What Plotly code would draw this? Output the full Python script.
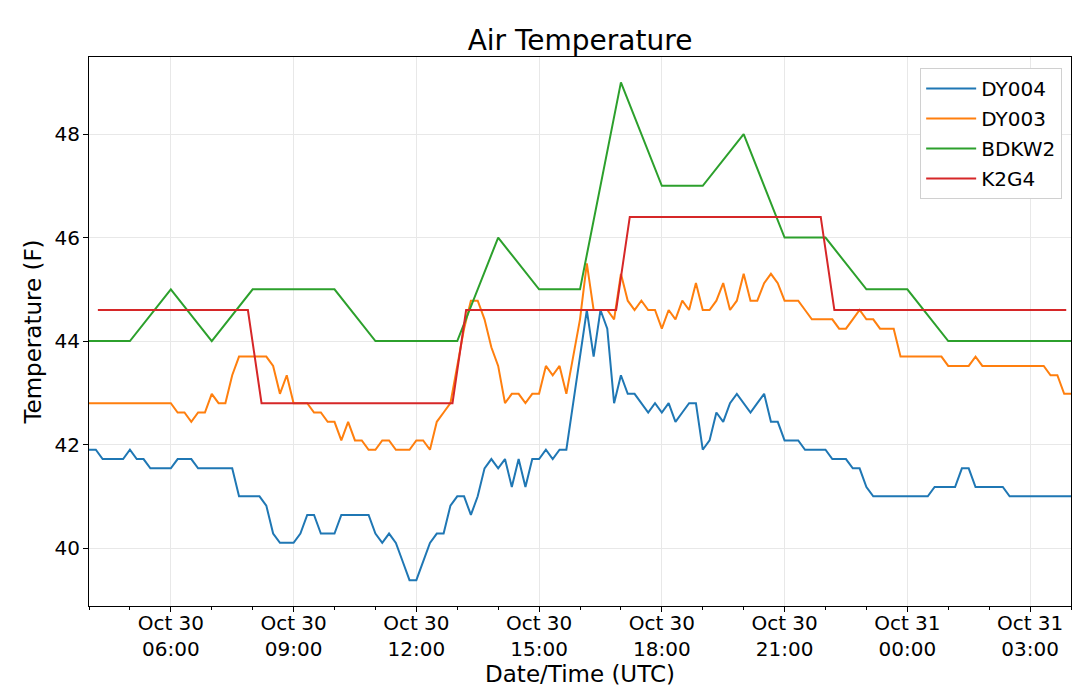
import pandas as pd
import plotly.graph_objects as go

# 10 minute obs, 04:00 Oct 30 -> 04:00 Oct 31
dy004_temp = [
    41.9, 41.9, 41.72, 41.72, 41.72, 41.72, 41.9, 41.72, 41.72, 41.54,
    41.54, 41.54, 41.54, 41.72, 41.72, 41.72, 41.54, 41.54, 41.54, 41.54,
    41.54, 41.54, 41.0, 41.0, 41.0, 41.0, 40.82, 40.28, 40.1, 40.1,
    40.1, 40.28, 40.64, 40.64, 40.28, 40.28, 40.28, 40.64, 40.64, 40.64,
    40.64, 40.64, 40.28, 40.1, 40.28, 40.1, 39.74, 39.38, 39.38, 39.74,
    40.1, 40.28, 40.28, 40.82, 41.0, 41.0, 40.64, 41.0, 41.54, 41.72,
    41.54, 41.72, 41.18, 41.72, 41.18, 41.72, 41.72, 41.9, 41.72, 41.9,
    41.9, 42.8, 43.7, 44.6, 43.7, 44.6, 44.24, 42.8, 43.34, 42.98,
    42.98, 42.8, 42.62, 42.8, 42.62, 42.8, 42.44, 42.62, 42.8, 42.8,
    41.9, 42.08, 42.62, 42.44, 42.8, 42.98, 42.8, 42.62, 42.8, 42.98,
    42.44, 42.44, 42.08, 42.08, 42.08, 41.9, 41.9, 41.9, 41.9, 41.72,
    41.72, 41.72, 41.54, 41.54, 41.18, 41.0, 41.0, 41.0, 41.0, 41.0,
    41.0, 41.0, 41.0, 41.0, 41.18, 41.18, 41.18, 41.18, 41.54, 41.54,
    41.18, 41.18, 41.18, 41.18, 41.18, 41.0, 41.0, 41.0, 41.0, 41.0,
    41.0, 41.0, 41.0, 41.0, 41.0,
]
dy003_temp = [
    42.8, 42.8, 42.8, 42.8, 42.8, 42.8, 42.8, 42.8, 42.8, 42.8,
    42.8, 42.8, 42.8, 42.62, 42.62, 42.44, 42.62, 42.62, 42.98, 42.8,
    42.8, 43.34, 43.7, 43.7, 43.7, 43.7, 43.7, 43.52, 42.98, 43.34,
    42.8, 42.8, 42.8, 42.62, 42.62, 42.44, 42.44, 42.08, 42.44, 42.08,
    42.08, 41.9, 41.9, 42.08, 42.08, 41.9, 41.9, 41.9, 42.08, 42.08,
    41.9, 42.44, 42.62, 42.8, 43.52, 44.24, 44.78, 44.78, 44.42, 43.88,
    43.52, 42.8, 42.98, 42.98, 42.8, 42.98, 42.98, 43.52, 43.34, 43.52,
    42.98, 43.7, 44.42, 45.5, 44.6, 44.6, 44.6, 44.42, 45.3, 44.78,
    44.6, 44.78, 44.6, 44.6, 44.24, 44.6, 44.42, 44.78, 44.6, 45.12,
    44.6, 44.6, 44.78, 45.12, 44.6, 44.78, 45.3, 44.78, 44.78, 45.12,
    45.3, 45.12, 44.78, 44.78, 44.78, 44.6, 44.42, 44.42, 44.42, 44.42,
    44.24, 44.24, 44.42, 44.6, 44.42, 44.42, 44.24, 44.24, 44.24, 43.7,
    43.7, 43.7, 43.7, 43.7, 43.7, 43.7, 43.52, 43.52, 43.52, 43.52,
    43.7, 43.52, 43.52, 43.52, 43.52, 43.52, 43.52, 43.52, 43.52, 43.52,
    43.52, 43.34, 43.34, 42.98, 42.98,
]
# hourly obs
bdkw2_temp = [
    44, 44, 45, 44, 45, 45, 45, 44, 44, 44, 46, 45, 45,
    49, 47, 47, 48, 46, 46, 45, 45, 44, 44, 44, 44,
]
# 20 minute obs, 04:13 -> 03:53
k2g4_temp = [
    44.6, 44.6, 44.6, 44.6, 44.6, 44.6, 44.6, 44.6, 44.6, 44.6, 44.6, 44.6,
    42.8, 42.8, 42.8, 42.8, 42.8, 42.8, 42.8, 42.8, 42.8, 42.8, 42.8, 42.8,
    42.8, 42.8, 42.8,
    44.6, 44.6, 44.6, 44.6, 44.6, 44.6, 44.6, 44.6, 44.6, 44.6, 44.6, 44.6,
    46.4, 46.4, 46.4, 46.4, 46.4, 46.4, 46.4, 46.4, 46.4, 46.4, 46.4, 46.4,
    46.4, 46.4, 46.4,
    44.6, 44.6, 44.6, 44.6, 44.6, 44.6, 44.6, 44.6, 44.6, 44.6, 44.6, 44.6,
    44.6, 44.6, 44.6, 44.6, 44.6, 44.6,
]

dy004_time = pd.date_range("2019-10-30 04:00", periods=len(dy004_temp), freq="10min")
dy003_time = pd.date_range("2019-10-30 04:00", periods=len(dy003_temp), freq="10min")
bdkw2_time = pd.date_range("2019-10-30 04:00", periods=len(bdkw2_temp), freq="60min")
k2g4_time = pd.date_range("2019-10-30 04:13", periods=len(k2g4_temp), freq="20min")

station_names = ["DY004", "DY003", "BDKW2", "K2G4"]
station_colors = ["#1f77b4", "#ff7f0e", "#2ca02c", "#d62728"]

tick_times = [
    "2019-10-30 06:00", "2019-10-30 09:00", "2019-10-30 12:00", "2019-10-30 15:00",
    "2019-10-30 18:00", "2019-10-30 21:00", "2019-10-31 00:00", "2019-10-31 03:00",
]
tick_labels = [
    "Oct 30<br>06:00", "Oct 30<br>09:00", "Oct 30<br>12:00", "Oct 30<br>15:00",
    "Oct 30<br>18:00", "Oct 30<br>21:00", "Oct 31<br>00:00", "Oct 31<br>03:00",
]
y_ticks = [40, 42, 44, 46, 48]

series = [
    (dy004_time, dy004_temp),
    (dy003_time, dy003_temp),
    (bdkw2_time, bdkw2_temp),
    (k2g4_time, k2g4_temp),
]

fig = go.Figure()
for (t, temp), name, colour in zip(series, station_names, station_colors):
    fig.add_trace(
        go.Scatter(
            x=t,
            y=temp,
            mode="lines",
            name=name,
            legendgroup=name,
            line=dict(color=colour, width=2),
        )
    )

font_family = "DejaVu Sans"

# page body adds an 8px offset, so margins are shifted to compensate
fig.update_layout(
    width=1080,
    height=700,
    paper_bgcolor="white",
    plot_bgcolor="white",
    margin=dict(l=81, r=17, t=49, b=102),
    font=dict(family=font_family, size=20, color="black"),
    title=dict(
        text="Air Temperature",
        x=0.5,
        xref="paper",
        xanchor="center",
        y=1 - 32 / 700,
        yanchor="middle",
        yref="container",
        font=dict(size=28),
    ),
    legend=dict(
        x=0.991,
        y=0.98,
        xanchor="right",
        yanchor="top",
        bgcolor="white",
        bordercolor="#d0d0d0",
        borderwidth=1,
        tracegroupgap=1,
        itemwidth=50,
        font=dict(size=20),
    ),
    showlegend=True,
)

fig.update_xaxes(
    range=["2019-10-30 04:00", "2019-10-31 04:00"],
    automargin=False,
    tickmode="array",
    tickvals=tick_times,
    ticktext=tick_labels,
    ticks="outside",
    ticklen=5,
    tickcolor="black",
    ticklabelstandoff=-6,
    showgrid=True,
    gridcolor="#e8e8e8",
    gridwidth=1,
    showline=True,
    linecolor="black",
    linewidth=1,
    mirror=True,
    zeroline=False,
    minor=dict(
        ticks="outside",
        ticklen=3,
        tickcolor="black",
        dtick=3600000,
        tick0="2019-10-30 04:00",
        showgrid=False,
    ),
    title=dict(text="Date/Time (UTC)", font=dict(size=23), standoff=4),
)

fig.update_yaxes(
    range=[38.88, 49.49],
    automargin=False,
    tickmode="array",
    tickvals=y_ticks,
    ticks="outside",
    ticklen=5,
    tickcolor="black",
    ticklabelstandoff=-1,
    showgrid=True,
    gridcolor="#e8e8e8",
    gridwidth=1,
    showline=True,
    linecolor="black",
    linewidth=1,
    mirror=True,
    zeroline=False,
    title=dict(text="Temperature (F)", font=dict(size=23), standoff=6),
)

fig.write_html("out.html")
